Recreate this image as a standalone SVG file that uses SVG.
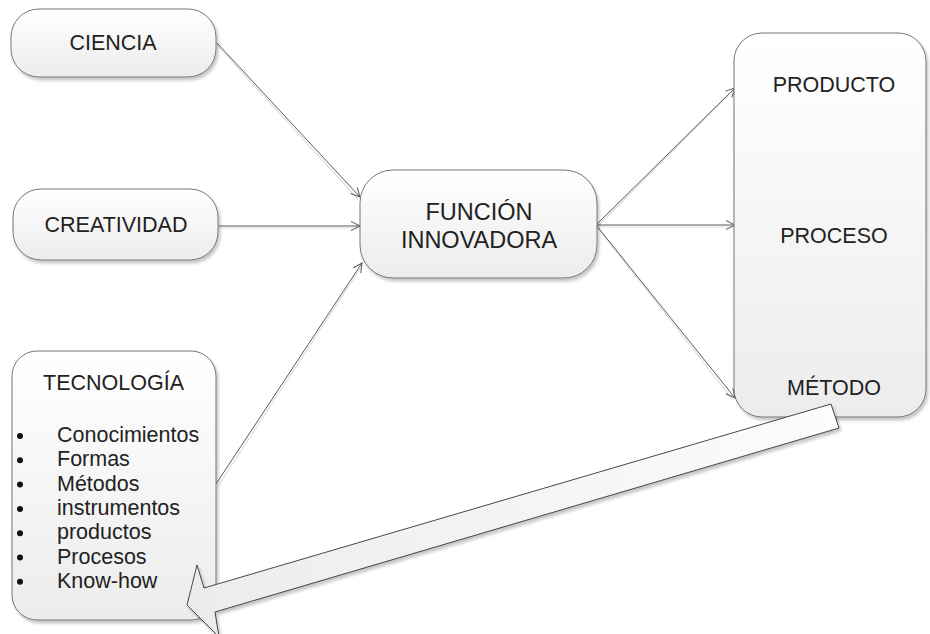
<svg xmlns="http://www.w3.org/2000/svg" width="930" height="634" viewBox="0 0 930 634">
<defs>
<linearGradient id="g" x1="0" y1="0" x2="0" y2="1">
<stop offset="0" stop-color="#ffffff"/>
<stop offset="1" stop-color="#ececec"/>
</linearGradient>
<linearGradient id="ga" x1="0" y1="0" x2="1" y2="0">
<stop offset="0" stop-color="#ececec"/>
<stop offset="1" stop-color="#fcfcfc"/>
</linearGradient>
<filter id="sh" x="-10%" y="-10%" width="130%" height="130%">
<feDropShadow dx="2" dy="3" stdDeviation="1.5" flood-color="#000" flood-opacity="0.22"/>
</filter>
<marker id="ar" markerUnits="userSpaceOnUse" markerWidth="12" markerHeight="12" viewBox="0 0 12 12" refX="11" refY="6" orient="auto">
<path d="M2,1.5 L11,6 L2,10.5" fill="none" stroke="#555" stroke-width="1"/>
</marker>
</defs>
<style>
.box{fill:url(#g);stroke:#757575;stroke-width:1;filter:url(#sh)}
.t{font-family:"Liberation Sans",Arial,sans-serif;font-size:21.5px;fill:#222}
.c{text-anchor:middle}
.ln{stroke:#5a5a5a;stroke-width:1;fill:none;marker-end:url(#ar)}
.ls{stroke:#dedede;stroke-width:1.2;fill:none}
.blk{fill:url(#ga);stroke:#333;stroke-width:0.9;filter:url(#sh)}
</style>
<rect width="930" height="634" fill="#ffffff"/>
<g id="connectors">
<line class="ls" x1="217" y1="45" x2="358" y2="199"/>
<line class="ls" x1="219" y1="228" x2="358" y2="228"/>
<line class="ls" x1="218" y1="486" x2="362" y2="266"/>
<line class="ls" x1="597" y1="227" x2="733" y2="90"/>
<line class="ls" x1="597" y1="227" x2="733" y2="227"/>
<line class="ls" x1="597" y1="227" x2="733" y2="400"/>
<line class="ln" x1="217" y1="43" x2="360" y2="197"/>
<line class="ln" x1="219" y1="226" x2="360" y2="226"/>
<line class="ln" x1="216" y1="484" x2="362" y2="263"/>
<line class="ln" x1="596" y1="225" x2="735" y2="88"/>
<line class="ln" x1="596" y1="225" x2="735" y2="225"/>
<line class="ln" x1="596" y1="225" x2="735" y2="398"/>
</g>
<g id="ciencia">
<rect class="box" x="11" y="9" width="205" height="68" rx="28" ry="28"/>
<text class="t c" x="113" y="50">CIENCIA</text>
</g>
<g id="creatividad">
<rect class="box" x="13" y="189" width="205" height="71" rx="28" ry="28"/>
<text class="t c" x="116" y="232">CREATIVIDAD</text>
</g>
<g id="tecnologia">
<rect class="box" x="12" y="351" width="204" height="269" rx="25" ry="25"/>
<text class="t c" x="113.5" y="390">TECNOLOGÍA</text>
<g fill="#111">
<circle cx="20" cy="436" r="3"/>
<circle cx="20" cy="460.3" r="3"/>
<circle cx="20" cy="484.6" r="3"/>
<circle cx="20" cy="508.9" r="3"/>
<circle cx="20" cy="533.2" r="3"/>
<circle cx="20" cy="557.5" r="3"/>
<circle cx="20" cy="581.8" r="3"/>
</g>
<text class="t" x="57" y="442">Conocimientos</text>
<text class="t" x="57" y="466.3">Formas</text>
<text class="t" x="57" y="490.6">Métodos</text>
<text class="t" x="57" y="514.9">instrumentos</text>
<text class="t" x="57" y="539.2">productos</text>
<text class="t" x="57" y="563.5">Procesos</text>
<text class="t" x="57" y="587.8">Know-how</text>
</g>
<g id="funcion">
<rect class="box" x="360" y="170" width="237" height="108" rx="33" ry="33"/>
<text class="t c" x="479" y="220" style="font-size:23.5px">FUNCIÓN</text>
<text class="t c" x="479" y="248" style="font-size:23.5px">INNOVADORA</text>
</g>
<g id="resultados">
<rect class="box" x="734" y="33" width="192" height="384" rx="28" ry="28"/>
<text class="t c" x="834" y="92">PRODUCTO</text>
<text class="t c" x="834" y="243">PROCESO</text>
<text class="t c" x="834" y="395">MÉTODO</text>
</g>
<g id="feedback-arrow">
<polygon class="blk" points="831,404 839,428 215,612 219,637 187,605 197,565 204,588"/>
</g>
</svg>
